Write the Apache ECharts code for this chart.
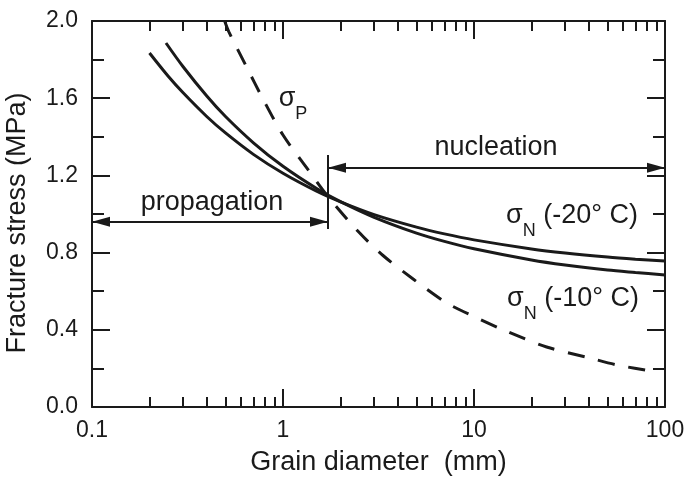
<!DOCTYPE html>
<html>
<head>
<meta charset="utf-8">
<script src="https://cdn.jsdelivr.net/npm/echarts@6/dist/echarts.min.js"></script>
<style>
  html, body { margin: 0; padding: 0; background: #fff; }
  #chart { width: 689px; height: 477px; }
</style>
</head>
<body>
<div id="chart"></div>
<script>
// grain diameter (mm) and fracture stress (MPa)
const dN20 = [0.2, 0.25, 0.3, 0.4, 0.5, 0.7, 1, 1.5, 2, 3, 5, 7, 10, 20, 30, 50, 70, 100];
const sN20 = [1.834, 1.715, 1.628, 1.504, 1.420, 1.309, 1.211, 1.118, 1.063, 0.997, 0.932, 0.897, 0.866, 0.819, 0.798, 0.777, 0.766, 0.756];

const dN10 = [0.244, 0.3, 0.4, 0.5, 0.7, 1, 1.5, 2, 3, 5, 7, 10, 20, 30, 50, 70, 100];
const sN10 = [1.886, 1.763, 1.610, 1.505, 1.369, 1.247, 1.132, 1.064, 0.983, 0.901, 0.858, 0.820, 0.762, 0.736, 0.710, 0.697, 0.684];

const dP = [0.495, 0.52, 0.64, 0.79, 1.0, 1.32, 1.72, 2.5, 3.34, 4.8, 7.2, 10.4, 15, 24, 40, 56, 92];
const sP = [2.0, 1.945, 1.768, 1.591, 1.409, 1.244, 1.09, 0.905, 0.785, 0.663, 0.539, 0.461, 0.39, 0.311, 0.255, 0.218, 0.18];

// axis ticks
const xMajor = [0.1, 1, 10, 100];
const xMinor = [0.2, 0.3, 0.4, 0.5, 0.6, 0.7, 0.8, 0.9,
  2, 3, 4, 5, 6, 7, 8, 9,
  20, 30, 40, 50, 60, 70, 80, 90];

// propagation / nucleation boundary and arrows
const boundary = 1.72;
const boundarySpan = [0.922, 1.306];
const propLevel = 0.96;
const nuclLevel = 1.24;

const ink = '#1a1a1a';
const font = '"Liberation Sans", Arial, sans-serif';

function pairs(xs, ys) {
  return xs.map((x, i) => [x, ys[i]]);
}

const chart = echarts.init(document.getElementById('chart'));

function xAxisOf(position, major, withLabels) {
  return {
    type: 'log',
    logBase: 10,
    min: 0.1,
    max: 100,
    position: position,
    splitLine: { show: false },
    axisLine: { show: major, onZero: false, lineStyle: { color: ink, width: 2 } },
    axisTick: {
      inside: true,
      length: major ? 18 : 10,
      customValues: major ? xMajor : xMinor,
      lineStyle: { color: ink, width: 2 }
    },
    axisLabel: {
      show: withLabels,
      customValues: xMajor,
      fontSize: 23,
      fontFamily: font,
      color: ink,
      margin: 12,
      formatter: v => String(+v.toPrecision(3))
    }
  };
}

const xBottom = xAxisOf('bottom', true, true);
xBottom.name = 'Grain diameter  (mm)';
xBottom.nameLocation = 'middle';
xBottom.nameGap = 42;
xBottom.nameTextStyle = { fontSize: 27, fontFamily: font, color: ink };

function yAxisOf(position, withLabels) {
  return {
    type: 'value',
    position: position,
    min: 0,
    max: 2,
    interval: 0.4,
    splitLine: { show: false },
    axisLine: { show: true, onZero: false, lineStyle: { color: ink, width: 2 } },
    axisTick: { show: true, inside: true, length: 18, lineStyle: { color: ink, width: 2 } },
    minorTick: { show: true, splitNumber: 2, length: 12, lineStyle: { color: ink, width: 2 } },
    axisLabel: {
      show: withLabels,
      fontSize: 23,
      fontFamily: font,
      color: ink,
      margin: 14,
      formatter: v => v.toFixed(1)
    }
  };
}

const yLeft = yAxisOf('left', true);
yLeft.name = 'Fracture stress (MPa)';
yLeft.nameLocation = 'middle';
yLeft.nameGap = 61;
yLeft.nameTextStyle = { fontSize: 27, fontFamily: font, color: ink, padding: [0, 18, 0, 0] };

// arrow tips sit on the line ends: shift each head back along the line
const lineMark = {
  silent: true,
  animation: false,
  label: { show: false },
  lineStyle: { color: ink, width: 2, type: 'solid' },
  symbol: ['triangle', 'triangle'],
  symbolSize: [10, 18],
  symbolOffset: [[0, 9], [0, 9]],
  data: [
    [{ coord: [0.1, propLevel] }, { coord: [boundary, propLevel] }],
    [{ coord: [boundary, nuclLevel] }, { coord: [100, nuclLevel] }],
    [{ coord: [boundary, boundarySpan[0]], symbol: 'none' },
     { coord: [boundary, boundarySpan[1]], symbol: 'none' }]
  ]
};

function subLabel(sub, rest) {
  return {
    type: 'text',
    style: {
      text: '{s|σ}{n|' + sub + '}' + (rest ? '{t|' + rest + '}' : ''),
      rich: {
        s: { fontSize: 27, fontFamily: font, fill: ink, lineHeight: 32, verticalAlign: 'middle' },
        n: { fontSize: 18, fontFamily: font, fill: ink, lineHeight: 32, verticalAlign: 'bottom', padding: [0, 0, -8, 0] },
        t: { fontSize: 27, fontFamily: font, fill: ink, lineHeight: 32, verticalAlign: 'middle' }
      },
      align: 'center',
      verticalAlign: 'middle'
    }
  };
}

const option = {
  animation: false,
  backgroundColor: '#fff',
  grid: { left: 92, right: 24, top: 21, bottom: 70, outerBoundsMode: 'none' },
  xAxis: [
    xBottom,
    xAxisOf('bottom', false, false),
    xAxisOf('top', true, false),
    xAxisOf('top', false, false)
  ],
  yAxis: [yLeft, yAxisOf('right', false)],
  series: [
    {
      name: 'sigmaN -20',
      type: 'line',
      smooth: 0.3,
      symbol: 'none',
      lineStyle: { color: ink, width: 3 },
      data: pairs(dN20, sN20)
    },
    {
      name: 'sigmaN -10',
      type: 'line',
      smooth: 0.3,
      symbol: 'none',
      lineStyle: { color: ink, width: 3 },
      data: pairs(dN10, sN10),
      markLine: lineMark
    },
    {
      name: 'sigmaP',
      type: 'line',
      smooth: 0.3,
      symbol: 'none',
      lineStyle: { color: ink, width: 3, type: [17, 14] },
      data: pairs(dP, sP)
    }
  ],
  graphic: [
    { type: 'text', x: 212, y: 203, style: { text: 'propagation', fontSize: 27, fontFamily: font, fill: ink, align: 'center', verticalAlign: 'middle' } },
    { type: 'text', x: 496, y: 148, style: { text: 'nucleation', fontSize: 27, fontFamily: font, fill: ink, align: 'center', verticalAlign: 'middle' } },
    Object.assign(subLabel('P', ''), { x: 293, y: 99 }),
    Object.assign(subLabel('N', ' (-20° C)'), { x: 572, y: 216 }),
    Object.assign(subLabel('N', ' (-10° C)'), { x: 573, y: 299 })
  ]
};

chart.setOption(option);
</script>
</body>
</html>
